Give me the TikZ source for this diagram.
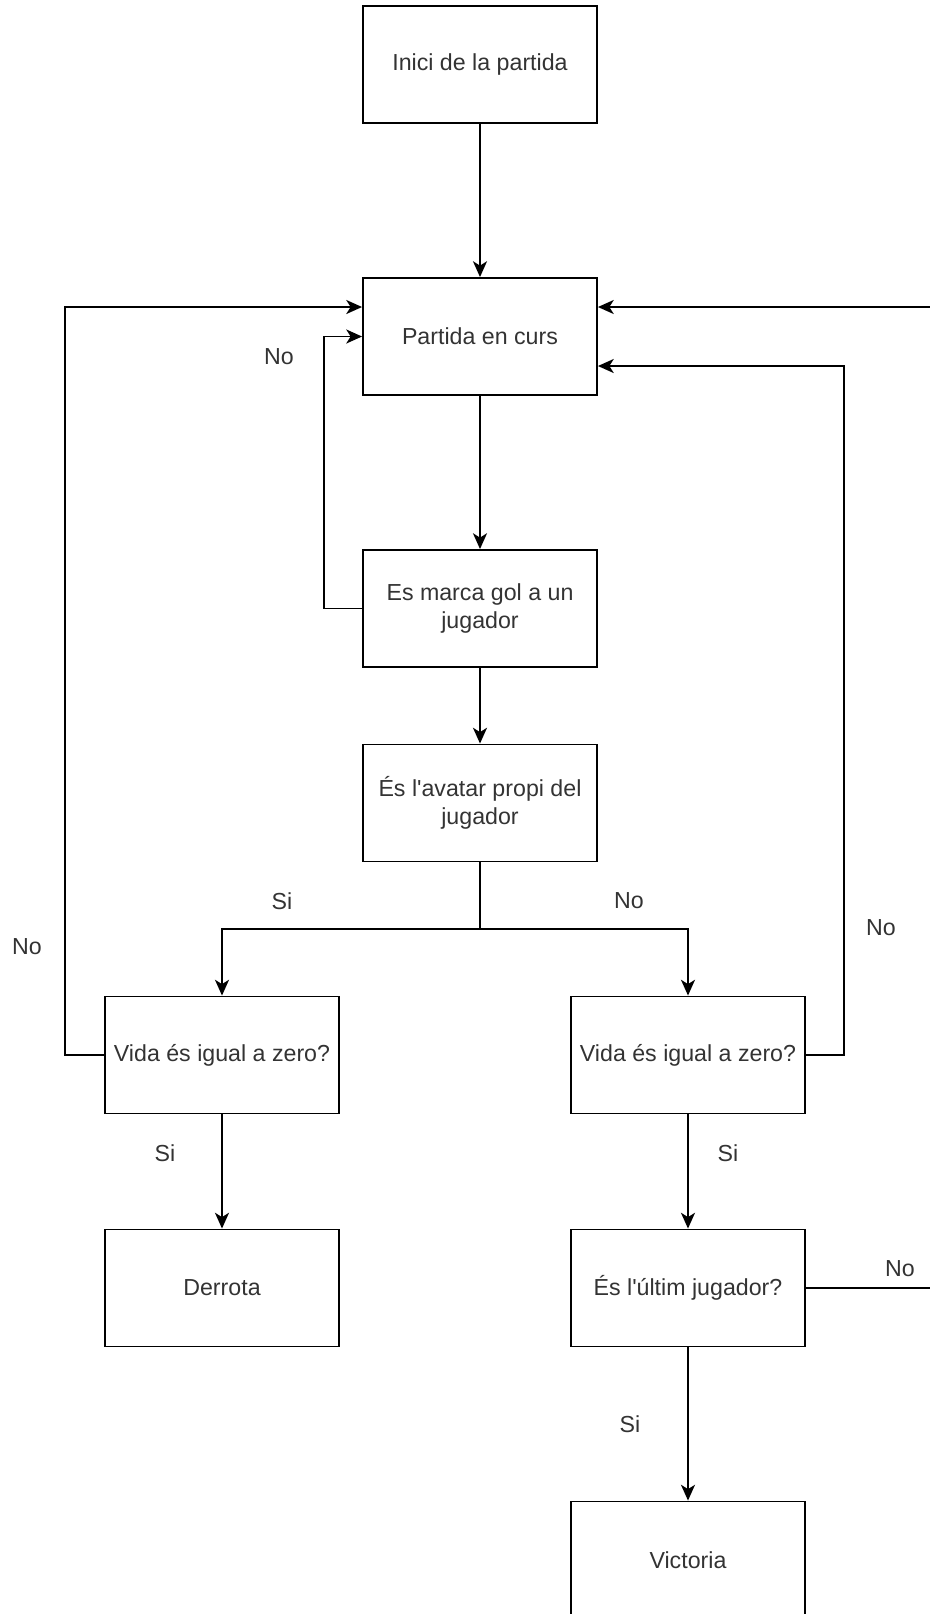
\documentclass[tikz,border=0pt]{standalone}
\usepackage{fontspec}
\newfontfamily\drawfont{Liberation Sans}
\usetikzlibrary{arrows.meta,calc}
\newcommand{\lbl}{\drawfont\fontsize{13.2}{15.6}\selectfont}

\begin{document}
\begin{tikzpicture}[x=0.02cm,y=-0.02cm,every node/.style={font=\lbl,text=black!80},
  box/.style={draw,line width=1.1pt,minimum width=4.68cm,minimum height=2.34cm,inner sep=0pt,align=center},
  flow/.style={line width=1pt,-{Stealth[length=9pt,width=8pt,inset=2.5pt]}}]
  \clip (0,0) rectangle (930,1614);
  \node[box] (inici) at (480,64.5) {Inici de la partida};
  \node[box] (curs) at (480,336.5) {Partida en curs};
  \node[box] (gol) at (480,608.5) {Es marca gol a un\\jugador};
  \node[box] (avatar) at (480,803) {És l'avatar propi del\\jugador};
  \node[box] (vidaA) at (222,1055) {Vida és igual a zero?};
  \node[box] (vidaB) at (688,1055) {Vida és igual a zero?};
  \node[box] (derrota) at (222,1288) {Derrota};
  \node[box] (ultim) at (688,1288) {És l'últim jugador?};
  \node[box] (victoria) at (688,1560) {Victoria};
  \coordinate (split) at (480,929);
  \draw[flow] (inici) -- (curs);
  \draw[flow] (curs) -- (gol);
  \draw[flow] (gol.west) -- ++(-38,0) |- (curs.west);
  \draw[flow] (gol) -- (avatar);
  \draw[line width=1pt] (avatar.south) -- (split);
  \draw[flow] (split) -| (vidaA.north);
  \draw[flow] (split) -| (vidaB.north);
  \draw[flow] (vidaA.west) -- ++(-39,0) |- ($(curs.west)+(0,-29.5)$);
  \draw[flow] (vidaB.east) -- ++(38,0) |- ($(curs.east)+(0,29.5)$);
  \draw[flow] (ultim.east) -- ++(150,0) |- ($(curs.east)+(0,-29.5)$);
  \draw[flow] (vidaA) -- (derrota);
  \draw[flow] (vidaB) -- (ultim);
  \draw[flow] (ultim) -- (victoria);
  \foreach \n/\x/\y/\t in {nA/279/357/No,sA/282/901/Si,nB/629/901/No,nC/27/947/No,nD/881/928/No,
    sB/165/1153/Si,sC/728/1153/Si,nE/900/1269/No,sD/630/1424/Si} {
    \node (\n) at (\x,\y) {\t};
  }
\end{tikzpicture}
\end{document}
